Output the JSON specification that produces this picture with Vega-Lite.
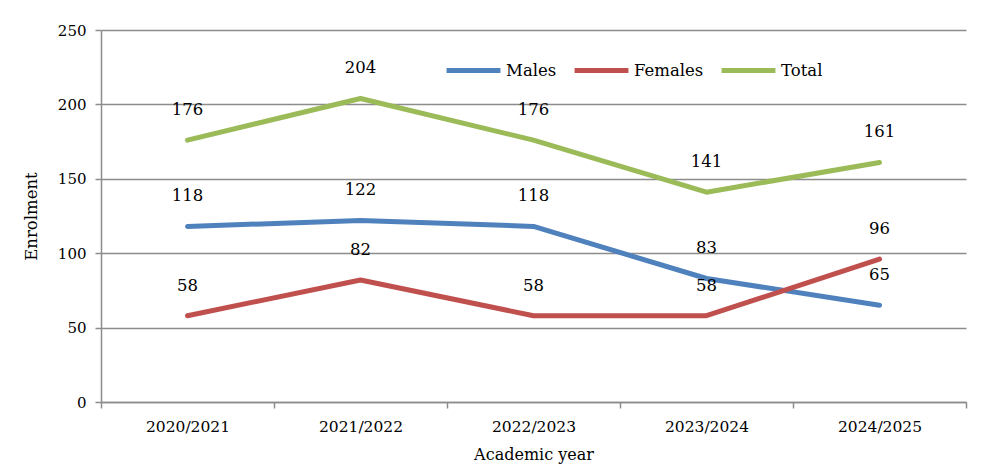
{
  "$schema": "https://vega.github.io/schema/vega-lite/v6.json",
  "width": 865,
  "height": 372,
  "autosize": {"type": "none"},
  "padding": {"left": 101, "top": 30, "right": 38, "bottom": 64},
  "background": "white",
  "config": {
    "view": {"stroke": null},
    "font": "DejaVu Serif"
  },
  "data": {
    "values": [
      {"year": "2020/2021", "series": "Males", "value": 118},
      {"year": "2021/2022", "series": "Males", "value": 122},
      {"year": "2022/2023", "series": "Males", "value": 118},
      {"year": "2023/2024", "series": "Males", "value": 83},
      {"year": "2024/2025", "series": "Males", "value": 65},
      {"year": "2020/2021", "series": "Females", "value": 58},
      {"year": "2021/2022", "series": "Females", "value": 82},
      {"year": "2022/2023", "series": "Females", "value": 58},
      {"year": "2023/2024", "series": "Females", "value": 58},
      {"year": "2024/2025", "series": "Females", "value": 96},
      {"year": "2020/2021", "series": "Total", "value": 176},
      {"year": "2021/2022", "series": "Total", "value": 204},
      {"year": "2022/2023", "series": "Total", "value": 176},
      {"year": "2023/2024", "series": "Total", "value": 141},
      {"year": "2024/2025", "series": "Total", "value": 161}
    ]
  },
  "encoding": {
    "x": {
      "field": "year",
      "type": "nominal",
      "bandPosition": 0.5,
      "scale": {"type": "band", "paddingInner": 0, "paddingOuter": 0},
      "axis": {
        "title": "Academic year",
        "labelAngle": 0,
        "tickBand": "extent",
        "domainColor": "#8c8c8c",
        "domainWidth": 1.5,
        "tickColor": "#8c8c8c",
        "tickWidth": 1.5,
        "tickSize": 6,
        "labelPadding": 11,
        "labelFontSize": 15.5,
        "labelColor": "#000000",
        "labelFontWeight": "normal",
        "titleFontSize": 16,
        "titleFontWeight": "normal",
        "titleColor": "#000000",
        "titlePadding": 12,
        "grid": false
      }
    },
    "y": {
      "field": "value",
      "type": "quantitative",
      "scale": {"domain": [0, 250]},
      "axis": {
        "title": "Enrolment",
        "values": [0, 50, 100, 150, 200, 250],
        "grid": true,
        "gridColor": "#8c8c8c",
        "gridWidth": 1.5,
        "domainColor": "#8c8c8c",
        "domainWidth": 1.5,
        "tickColor": "#8c8c8c",
        "tickWidth": 1.5,
        "tickSize": 6,
        "labelPadding": 9,
        "labelFontSize": 15,
        "labelColor": "#000000",
        "titleFontSize": 16.5,
        "titleFontWeight": "normal",
        "titleColor": "#000000",
        "titlePadding": 18
      }
    }
  },
  "layer": [
    {
      "mark": {"type": "line", "strokeWidth": 5, "strokeCap": "round", "strokeJoin": "round"},
      "encoding": {
        "color": {
          "field": "series",
          "type": "nominal",
          "sort": ["Males", "Females", "Total"],
          "scale": {
            "domain": ["Males", "Females", "Total"],
            "range": ["#4F81BD", "#C0504D", "#9BBB59"]
          },
          "legend": {
            "title": null,
            "orient": "none",
            "direction": "horizontal",
            "gridAlign": "none",
            "legendX": 343,
            "legendY": 11,
            "symbolType": "stroke",
            "symbolStrokeWidth": 5,
            "symbolSize": 2900,
            "labelFontSize": 16.5,
            "labelColor": "#000000",
            "labelOffset": 3,
            "columnPadding": 7
          }
        }
      }
    },
    {
      "mark": {"type": "text", "dy": -30, "fontSize": 16.5, "color": "#000000"},
      "encoding": {
        "text": {"field": "value", "type": "quantitative"}
      }
    }
  ]
}
